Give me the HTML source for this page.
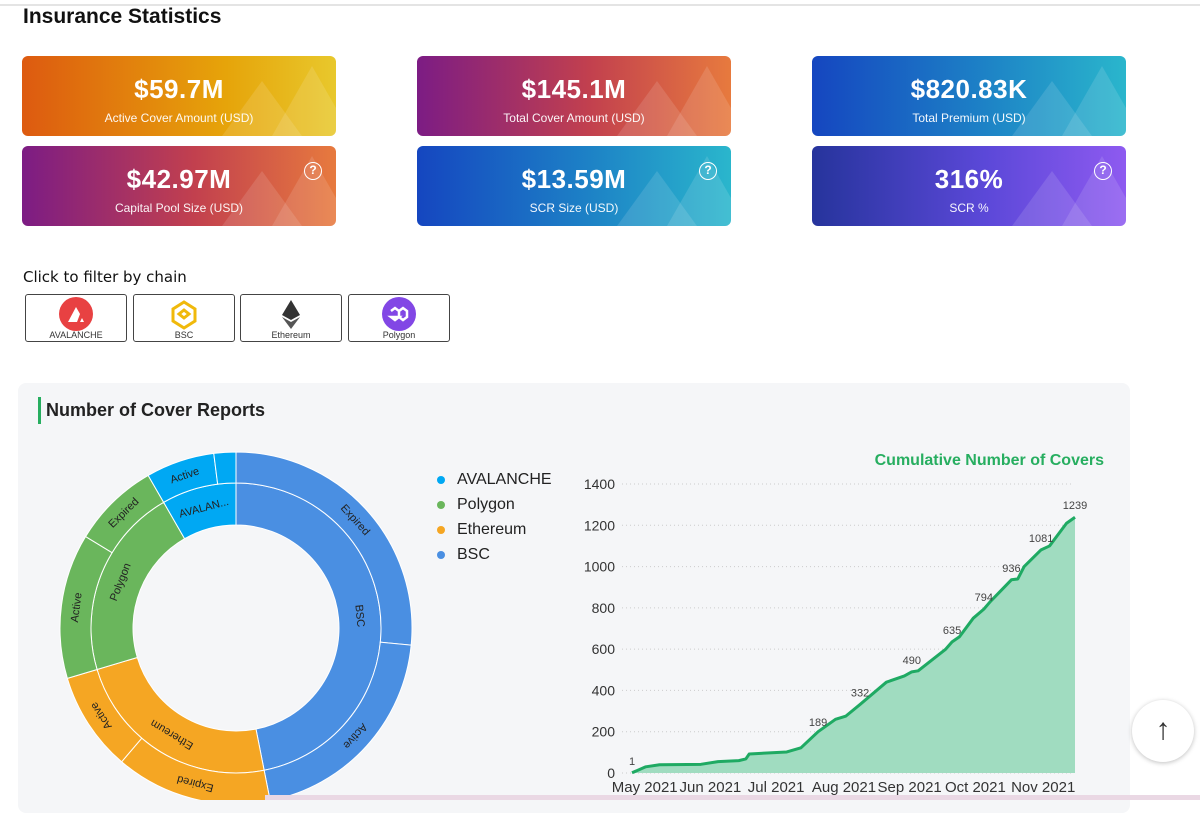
<!DOCTYPE html>
<html><head><meta charset="utf-8">
<style>
*{box-sizing:border-box;margin:0;padding:0}
body{width:1200px;height:800px;overflow:hidden;background:#fff;font-family:"Liberation Sans",sans-serif;position:relative}
.topline{position:absolute;left:0;top:4px;width:1200px;height:2px;background:#e4e4e4}
h1{position:absolute;left:23px;top:5px;font-size:21px;font-weight:bold;color:#111}
.card{position:absolute;width:314px;height:80px;border-radius:6px;color:#fff;text-align:center;overflow:hidden}
.card .v{position:absolute;left:0;right:0;top:18px;font-size:26px;font-weight:bold;letter-spacing:0.5px}
.card .l{position:absolute;left:0;right:0;top:55px;font-size:12px;opacity:.95}
.card .q{position:absolute;right:14px;top:16px;width:18px;height:18px;border:1.5px solid #fff;border-radius:50%;font-size:12px;line-height:15px;font-weight:bold}
.card .m{position:absolute;bottom:0;width:0;height:0;border-left:40px solid transparent;border-right:40px solid transparent;border-bottom:55px solid rgba(255,255,255,.12)}
.filter{position:absolute;left:23px;top:268px;font-size:15px;font-family:"Comic Sans MS","DejaVu Sans",sans-serif;color:#111}
.btn{position:absolute;top:294px;width:102px;height:48px;border:1.5px solid #444;border-radius:3px;background:#fff;text-align:center}
.btn span{position:absolute;left:0;right:0;bottom:1px;font-size:9px;color:#333}
.panel{position:absolute;left:18px;top:383px;width:1112px;height:430px;background:#f5f6f8;border-radius:8px}
.ptitle{position:absolute;left:38px;top:397px;height:27px;border-left:3px solid #27ae60;padding-left:5px;font-size:18px;font-weight:bold;color:#222;line-height:27px}
.legend{position:absolute;left:437px;font-size:16px;color:#222}
.legend i{display:inline-block;width:8px;height:8px;border-radius:50%;margin-right:12px;vertical-align:middle}
.up{position:absolute;left:1132px;top:700px;width:62px;height:62px;border-radius:50%;background:#fff;box-shadow:0 1px 5px rgba(0,0,0,.25);text-align:center;font-size:30px;line-height:60px;color:#333}
.bottom{position:absolute;left:265px;top:795px;width:935px;height:5px;background:#ead8e4}
</style></head><body>
<div class="topline"></div>
<h1>Insurance Statistics</h1>

<div class="card" style="left:22px;top:56px;background:linear-gradient(90deg,#dd5a10,#e6a40a 65%,#e8c82c)"><div class="m" style="left:200px"></div><div class="m" style="left:250px;border-bottom-width:70px"></div><div class="v">$59.7M</div><div class="l">Active Cover Amount (USD)</div></div>
<div class="card" style="left:417px;top:56px;background:linear-gradient(90deg,#7c1c84,#c2404e 55%,#e77a3e)"><div class="m" style="left:200px"></div><div class="m" style="left:250px;border-bottom-width:70px"></div><div class="v">$145.1M</div><div class="l">Total Cover Amount (USD)</div></div>
<div class="card" style="left:812px;top:56px;background:linear-gradient(90deg,#1546c0,#1d82c6 55%,#2ab6cc)"><div class="m" style="left:200px"></div><div class="m" style="left:250px;border-bottom-width:70px"></div><div class="v">$820.83K</div><div class="l">Total Premium (USD)</div></div>
<div class="card" style="left:22px;top:146px;background:linear-gradient(90deg,#7c1c84,#c2404e 55%,#e77a3e)"><div class="m" style="left:200px"></div><div class="m" style="left:250px;border-bottom-width:70px"></div><div class="v">$42.97M</div><div class="l">Capital Pool Size (USD)</div><div class="q">?</div></div>
<div class="card" style="left:417px;top:146px;background:linear-gradient(90deg,#1546c0,#1d82c6 55%,#2ab6cc)"><div class="m" style="left:200px"></div><div class="m" style="left:250px;border-bottom-width:70px"></div><div class="v">$13.59M</div><div class="l">SCR Size (USD)</div><div class="q">?</div></div>
<div class="card" style="left:812px;top:146px;background:linear-gradient(90deg,#26349c,#5b48d8 55%,#8e5af0)"><div class="m" style="left:200px"></div><div class="m" style="left:250px;border-bottom-width:70px"></div><div class="v">316%</div><div class="l">SCR %</div><div class="q">?</div></div>

<div class="filter">Click to filter by chain</div>
<div class="btn" style="left:25px"><svg width="34" height="34" style="margin-top:2px"><circle cx="17" cy="17" r="17" fill="#e84142"/><path d="M9 25 L17 10 L21 17 L18 25Z M21 25 L23 21 L25 25Z" fill="#fff"/></svg><span>AVALANCHE</span></div>
<div class="btn" style="left:133px"><svg width="34" height="34" style="margin-top:2px"><g fill="none" stroke="#f0b90b" stroke-width="3"><path d="M17 5 L28 12 L28 24 L17 31 L6 24 L6 12Z"/><path d="M17 13 L22 17 L17 21 L12 17Z"/></g></svg><span>BSC</span></div>
<div class="btn" style="left:240px"><svg width="34" height="34" style="margin-top:2px"><path d="M17 3 L26 18 L17 23 L8 18Z" fill="#333"/><path d="M17 25 L26 20 L17 32 L8 20Z" fill="#555"/></svg><span>Ethereum</span></div>
<div class="btn" style="left:348px"><svg width="34" height="34" style="margin-top:2px"><circle cx="17" cy="17" r="17" fill="#8247e5"/><path d="M9 14 L13 11 L17 14 L17 20 L21 23 L25 20 L25 14 L21 11 L17 14 M17 20 L13 23 L9 20Z" fill="none" stroke="#fff" stroke-width="2.5"/></svg><span>Polygon</span></div>

<div class="panel"></div>
<div class="ptitle">Number of Cover Reports</div>

<div class="legend" style="top:471px"><i style="background:#00a8f3"></i>AVALANCHE</div>
<div class="legend" style="top:496px"><i style="background:#6ab65c"></i>Polygon</div>
<div class="legend" style="top:521px"><i style="background:#f5a623"></i>Ethereum</div>
<div class="legend" style="top:546px"><i style="background:#4a8fe2"></i>BSC</div>

<svg id="sun" width="1200" height="800" style="position:absolute;left:0;top:0"></svg>
<svg id="line" width="1200" height="800" style="position:absolute;left:0;top:0"></svg>

<div class="up">&#8593;</div>
<div class="bottom"></div>

<script>
// Sunburst data
const chains = ["BSC","Ethereum","Polygon","AVALANCHE"];
const chainLabels = ["BSC","Ethereum","Polygon","AVALAN..."];
const chainColors = ["#4a8fe2","#f5a623","#6ab65c","#00a8f3"];
const subNames = [["Expired","Active"],["Expired","Active"],["Active","Expired"],["Active",""]];
const subValues = [[329,252],[178,113],[165,99],[78,25]];

// Line chart data
const dayIdx = [0,6.5,13,32.5,40.6,50.4,53.7,55.3,73,79.7,87.8,96,100.8,107.6,120,128.5,132,135,148,151,154.5,161,166,169,179,182,185,193,197,205,209];
const covers = [1,30,40,42,55,60,68,92,102,122,200,260,275,332,440,470,490,495,600,635,660,750,794,830,936,940,1000,1081,1100,1210,1239];
const labelDays = [0,87.8,107.6,132,151,166,179,193,209];
const labelVals = [1,189,332,490,635,794,936,1081,1239];
const yTicks = [0,200,400,600,800,1000,1200,1400];
const monthDays = [6,37,68,100,131,162,194];
const monthNames = ["May 2021","Jun 2021","Jul 2021","Aug 2021","Sep 2021","Oct 2021","Nov 2021"];

const NS="http://www.w3.org/2000/svg";
function mk(parent,tag,attrs){const e=document.createElementNS(NS,tag);for(const k in attrs)e.setAttribute(k,attrs[k]);parent.appendChild(e);return e;}

// sunburst
(function(){
 const svg=document.getElementById('sun');
 const cx=236,cy=628,r0=103,r1=145,r2=176;
 const total=subValues.flat().reduce((a,b)=>a+b,0);
 const ang=v=>v/total*2*Math.PI;
 const pt=(r,a)=>[cx+r*Math.sin(a),cy-r*Math.cos(a)];
 function arc(ri,ro,a0,a1,fill){
   const [x0,y0]=pt(ro,a0),[x1,y1]=pt(ro,a1),[x2,y2]=pt(ri,a1),[x3,y3]=pt(ri,a0);
   const lg=(a1-a0)>Math.PI?1:0;
   return mk(svg,'path',{d:`M${x0},${y0}A${ro},${ro} 0 ${lg} 1 ${x1},${y1}L${x2},${y2}A${ri},${ri} 0 ${lg} 0 ${x3},${y3}Z`,fill:fill,stroke:'#fff','stroke-width':1});
 }
 function label(r,a,txt,size){
   const [x,y]=pt(r,a);const deg=a*180/Math.PI;
   const t=mk(svg,'text',{x:x,y:y,'text-anchor':'middle','dominant-baseline':'central','font-size':size,fill:'#222',transform:`rotate(${deg} ${x} ${y})`});
   t.textContent=txt;return t;
 }
 let a=0;
 chains.forEach((c,i)=>{
   const sum=subValues[i].reduce((p,q)=>p+q,0);
   const a0=a,a1=a+ang(sum);
   const p=arc(r0,r1,a0,a1,chainColors[i]);
   
   
   const l=label((r0+r1)/2,(a0+a1)/2,chainLabels[i],11);
   
   
   let b=a0;
   subValues[i].forEach((v,j)=>{
     const b1=b+ang(v);
     const s=arc(r1,r2,b,b1,chainColors[i]);
     
     
     if(subNames[i][j]){const sl=label((r1+r2)/2,(b+b1)/2,subNames[i][j],11);
       
       }
     b=b1;
   });
   a=a1;
 });
})();

// line chart
(function(){
 const svg=document.getElementById('line');
 const x=d=>632+d*(1075-632)/209;
 const y=v=>773-v*(773-484)/1400;
 const tt=mk(svg,'text',{x:1104,y:465,'text-anchor':'end','font-size':16,'font-weight':'bold',fill:'#27ae60'});
 tt.textContent='Cumulative Number of Covers';
 
 
 yTicks.forEach(v=>{
   const g=mk(svg,'line',{x1:622,x2:1072,y1:y(v),y2:y(v),stroke:'#ccc','stroke-dasharray':'1,3'});
   
   
   const t=mk(svg,'text',{x:615,y:y(v)+5,'text-anchor':'end','font-size':14,fill:'#333'});
   t.textContent=v;
   
   
 });
 monthDays.forEach((d,i)=>{
   const t=mk(svg,'text',{x:x(d),y:792,'text-anchor':'middle','font-size':15,fill:'#333'});
   t.textContent=monthNames[i];
   
   
 });
 let pts=dayIdx.map((d,i)=>x(d)+','+y(covers[i])).join(' ');
 const area=mk(svg,'polygon',{points:pts+` ${x(dayIdx[dayIdx.length-1])},${y(0)} ${x(0)},${y(0)}`,fill:'#a0dcc0'});
 
 
 const ln=mk(svg,'polyline',{points:pts,fill:'none',stroke:'#1faa63','stroke-width':3,'stroke-linejoin':'round'});
 
 
 labelDays.forEach((d,i)=>{
   const t=mk(svg,'text',{x:x(d),y:y(labelVals[i])-8,'text-anchor':'middle','font-size':11,fill:'#444'});
   t.textContent=labelVals[i];
   
   
 });
})();
</script>
</body></html>
